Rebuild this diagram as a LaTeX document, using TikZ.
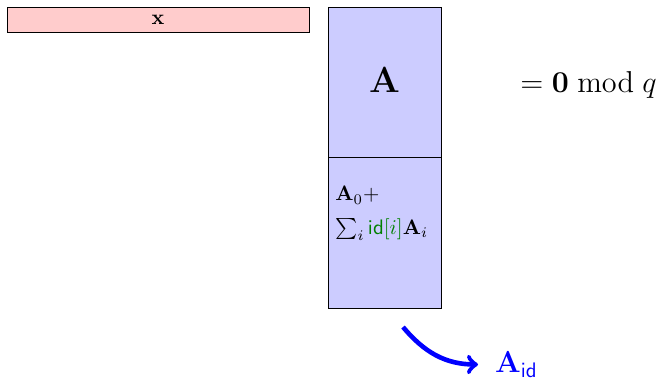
\documentclass[tikz,border=0pt]{standalone}
\usetikzlibrary{arrows}

\begin{document}
\begin{tikzpicture}
        \useasboundingbox (0,0) rectangle (11.163,-6.326);
        % vector and matrix
        \node[draw,fill=red!20,minimum width=5.055cm,minimum height=0.418cm,inner sep=0pt] (x) at (2.644,-0.326) {$\mathbf{x}$};
        \node[draw,fill=blue!20,minimum width=1.891cm,minimum height=2.511cm] (A) at (6.435,-1.372) {};
        \node[font=\LARGE] (Alabel) at (6.435,-1.34) {$\mathbf{A}$};
        \node[draw,fill=blue!20,minimum width=1.891cm,minimum height=2.527cm] (Asum) at (6.435,-3.891) {};
        \node[anchor=north west,align=left,inner sep=1pt] (sum) at (5.57,-3.08) {$\mathbf{A}_0 +$\\[4pt] $\sum_i \textcolor{green!50!black}{\textsf{id}[i]}\mathbf{A}_i$};
        \node[font=\Large] (eq) at (9.85,-1.423) {$= \mathbf{0} \bmod q$};
        % derived matrix
        \coordinate (s) at (6.745,-5.473);
        \node[blue,font=\Large,anchor=west,inner sep=8pt] (Aid) at (8.0,-6.1) {$\mathbf{A}_{\mathsf{id}}$};
        \draw[->,blue,line width=2.2pt] (s) to[out=-50,in=180] (Aid);
    \end{tikzpicture}
\end{document}
